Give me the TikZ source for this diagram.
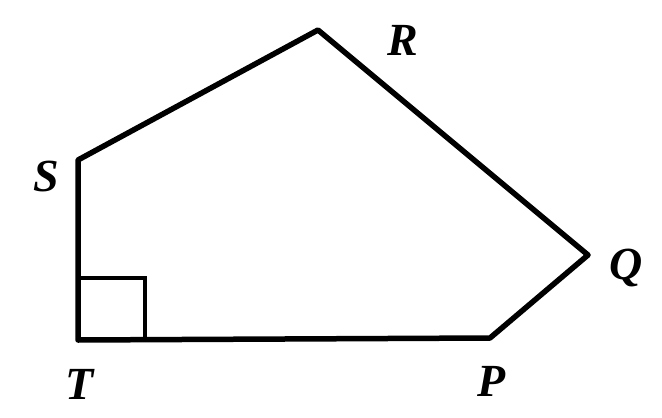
\documentclass[tikz,border=0pt]{standalone}
\usepackage{fontspec}
\setmainfont{Liberation Serif}
\begin{document}
\begin{tikzpicture}[x=1pt,y=-1pt,
  edge/.style={line width=5.5pt,line join=round,line cap=round},
  lbl/.style={font=\fontsize{46}{46}\selectfont\bfseries\itshape,inner sep=0pt}]
\useasboundingbox (0,0) rectangle (662,418);
\coordinate (T) at (78,340);
\coordinate (S) at (78,160);
\coordinate (R) at (318,30);
\coordinate (Q) at (588,255);
\coordinate (P) at (490,338);
\coordinate (A) at (78,278);
\coordinate (B) at (145,278);
\coordinate (C) at (145,340);
\draw[edge] (T) -- (S) -- (R) -- (Q) -- (P) -- cycle;
\draw[line width=4.5pt,line join=miter] (A) -- (B) -- (C);
\node[lbl] (lR) at (403,40) {R};
\node[lbl] (lS) at (46,176) {S};
\node[lbl] (lQ) at (626,268) {Q};
\node[lbl] (lT) at (80,384) {T};
\node[lbl] (lP) at (492,381) {P};
\end{tikzpicture}
\end{document}
